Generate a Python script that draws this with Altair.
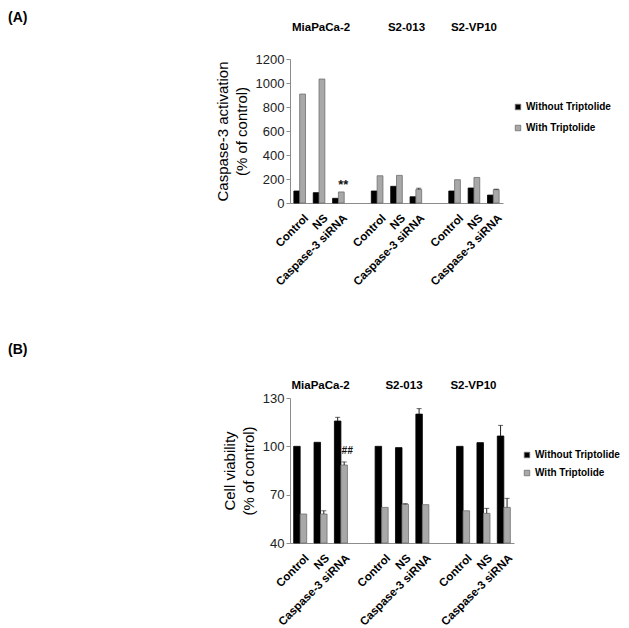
import altair as alt
import pandas as pd

lines = ["MiaPaCa-2", "S2-013", "S2-VP10"]
conditions = ["Control", "NS", "Caspase-3 siRNA"]
series = ["Without Triptolide", "With Triptolide"]

# Panel A: caspase-3 activation (% of control)
casp_without = [100, 86, 39, 100, 139, 52, 100, 125, 66]
casp_with = [908, 1033, 92, 227, 230, 113, 194, 213, 111]
casp_err_without = [0, 0, 0, 0, 0, 0, 0, 0, 0]
casp_err_with = [0, 0, 0, 0, 0, 10, 0, 0, 4]
casp_ticks = [0, 200, 400, 600, 800, 1000, 1200]

# Panel B: cell viability (% of control)
via_without = [100, 102.5, 115.7, 100, 99.2, 120, 100, 102.3, 106.4]
via_with = [58, 58, 88.4, 62.1, 64, 63.8, 60, 58.4, 62.1]
via_err_without = [0, 0, 2.3, 0, 0, 3.4, 0, 0, 6.6]
via_err_with = [0, 2, 1.9, 0, 0.4, 0, 0, 3.1, 5.6]
via_ticks = [40, 70, 100, 130]

FONT = "Liberation Sans"

x_domain = []
for gi, ln in enumerate(lines):
    for c in conditions:
        x_domain.append(f"{ln}|{c}")
    if gi < len(lines) - 1:
        x_domain.append(f"gap{gi}")


def make_df(without, with_, err_wo, err_w):
    rows = []
    i = 0
    for ln in lines:
        for c in conditions:
            key = f"{ln}|{c}"
            rows.append(dict(key=key, line=ln, cond=c, series=series[0],
                             value=without[i], err=err_wo[i], top=without[i] + err_wo[i]))
            rows.append(dict(key=key, line=ln, cond=c, series=series[1],
                             value=with_[i], err=err_w[i], top=with_[i] + err_w[i]))
            i += 1
    return pd.DataFrame(rows)


def panel(df, width, height, ydom, yticks, ytitle, pad_inner, tag, tag_y,
          legend_x, legend_y, legend_row, header_y, header_dx, note, note_dy, note_dx,
          note_style):
    xscale = alt.Scale(domain=x_domain, paddingInner=pad_inner, paddingOuter=pad_inner / 2)
    xaxis = alt.Axis(labelExpr="indexof(datum.value, '|') >= 0 ? split(datum.value, '|')[1] : ''",
                     labelAngle=315, labelAlign="right", labelBaseline="top",
                     labelFont=FONT, labelFontSize=11.5, labelFontWeight="bold",
                     labelColor="#000000", ticks=False, labelPadding=9,
                     labelOffset=3, domainColor="#8c8c8c", labelOverlap=False,
                     title=None)
    xs = alt.X("key:N", scale=xscale, axis=xaxis)
    xo = alt.XOffset("series:N", scale=alt.Scale(domain=series, paddingInner=0, paddingOuter=0))
    yscale = alt.Scale(domain=ydom, nice=False, zero=False)
    yaxis = alt.Axis(values=yticks, format="d", labelOverlap=False,
                     title=ytitle, titleFont=FONT, titleFontSize=15,
                     titleFontWeight="normal", titleColor="#000000",
                     titleLineHeight=19, titlePadding=6,
                     labelFont=FONT, labelFontSize=13, labelColor="#222222",
                     tickSize=4, tickColor="#8c8c8c", domainColor="#8c8c8c",
                     labelPadding=2, grid=False)

    def Y(field):
        return alt.Y(field, scale=yscale, axis=yaxis)

    base = alt.Chart(df)
    bars = base.mark_bar(strokeWidth=0.8).encode(
        x=xs, xOffset=xo, y=Y("value:Q"), y2=alt.datum(ydom[0]),
        color=alt.Color("series:N", scale=alt.Scale(domain=series, range=["#000000", "#a8a8a8"]),
                        legend=alt.Legend(orient="none", legendX=legend_x, legendY=legend_y,
                                          title=None, symbolType="square", symbolSize=30,
                                          symbolStrokeColor="#6e6e6e", symbolStrokeWidth=0.8,
                                          labelFont=FONT, labelFontSize=10,
                                          labelFontWeight="bold", labelColor="#000000",
                                          rowPadding=legend_row, labelOffset=3, padding=0)),
        stroke=alt.Stroke("series:N", scale=alt.Scale(domain=series, range=["#000000", "#6e6e6e"]),
                          legend=None),
    )
    err_rule = base.transform_filter("datum.err > 0").mark_rule(color="#222222", strokeWidth=1).encode(
        x=xs, xOffset=xo, y=Y("value:Q"), y2="top:Q")
    err_cap = base.transform_filter("datum.err > 0").mark_tick(
        orient="horizontal", size=5, thickness=1, color="#222222").encode(
        x=xs, xOffset=xo, y=Y("top:Q"))

    layers = [bars, err_rule, err_cap]

    for ln, dx in zip(lines, header_dx):
        hdf = pd.DataFrame({"key": [f"{ln}|NS"], "line": [ln]})
        layers.append(alt.Chart(hdf).mark_text(font=FONT, fontSize=11.5, fontWeight="bold",
                                               color="#000000", baseline="middle", dx=dx).encode(
            x=xs, y=alt.value(header_y), text="line:N"))

    ndf = df[(df["key"] == note[0]) & (df["series"] == series[1])].assign(note=note[1])
    layers.append(alt.Chart(ndf).mark_text(font=FONT, fontSize=note_style[0], fontWeight="bold",
                                           fontStyle=note_style[1], color="#111111",
                                           baseline="alphabetic", dy=note_dy, dx=note_dx).encode(
        x=xs, xOffset=xo, y=Y("top:Q"), text="note:N"))

    tdf = pd.DataFrame({"tag": [tag]})
    layers.append(alt.Chart(tdf).mark_text(font=FONT, fontSize=14, fontWeight="bold",
                                           color="#000000", align="left", baseline="top").encode(
        x=alt.value(-282), y=alt.value(tag_y), text="tag:N"))

    return alt.layer(*layers).properties(width=width, height=height).resolve_scale(
        stroke="independent")


df_a = make_df(casp_without, casp_with, casp_err_without, casp_err_with)
df_b = make_df(via_without, via_with, via_err_without, via_err_with)

chart_a = panel(df_a, 213, 144, [0, 1200], casp_ticks, ["Caspase-3 activation", "(% of control)"],
                0.4, "(A)", -48, 223, 43, 11, -31, [2, 10, 0], ("MiaPaCa-2|Caspase-3 siRNA", "**"),
                -3, 2, (13, "normal"))
chart_b = panel(df_b, 224, 145, [40, 130], via_ticks, ["Cell viability", "(% of control)"],
                0.36, "(B)", -55, 232, 52, 8, -12, [0, 2, -10], ("MiaPaCa-2|Caspase-3 siRNA", "##"),
                -8, 3, (10, "italic"))

chart = alt.vconcat(chart_a, chart_b, spacing=55).resolve_scale(
    x="independent", y="independent", color="independent", xOffset="independent"
).resolve_legend(color="independent").configure_view(stroke=None).properties(
    padding={"left": 0, "top": 3, "right": 0, "bottom": 0})

chart.save("out.html", embed_options={"renderer": "svg", "actions": False})
